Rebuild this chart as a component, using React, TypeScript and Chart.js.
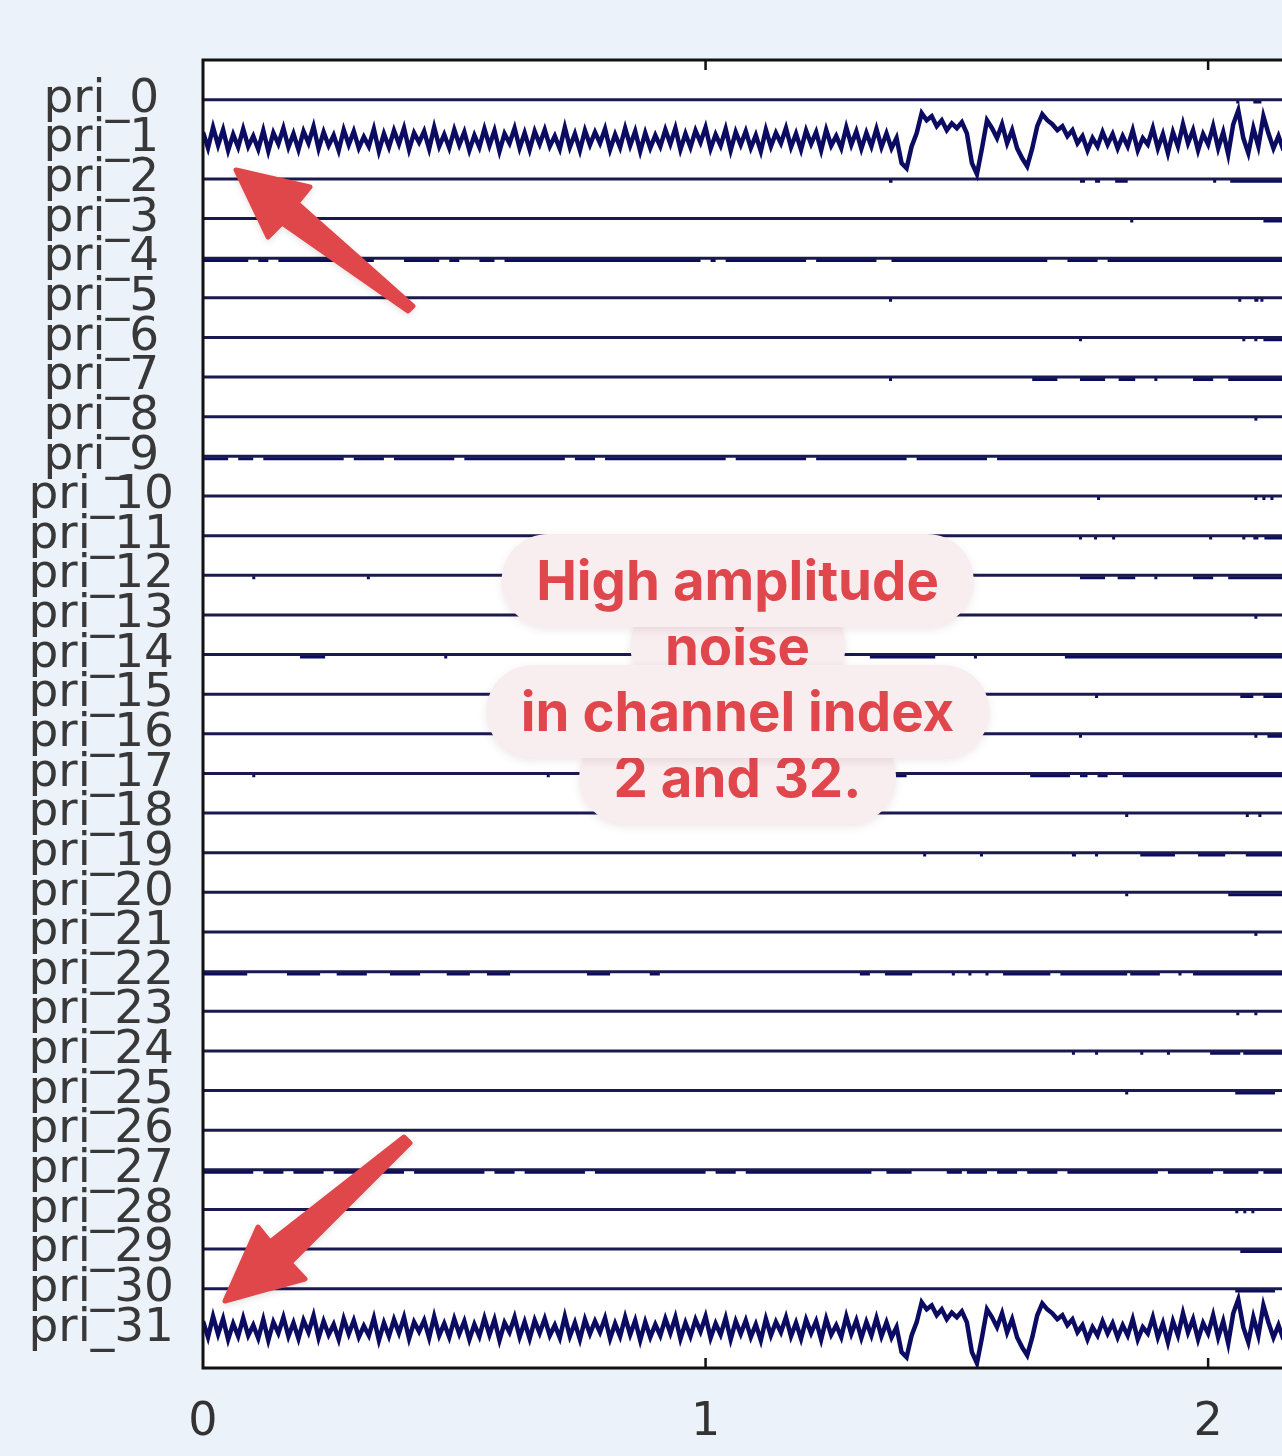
import React, { useEffect, useRef } from "react";
import { Chart, registerables } from "chart.js";

Chart.register(...registerables);

// ---------- DATA ----------
const channelNames = [
  "pri_0", "pri_1", "pri_2", "pri_3", "pri_4", "pri_5", "pri_6", "pri_7",
  "pri_8", "pri_9", "pri_10", "pri_11", "pri_12", "pri_13", "pri_14", "pri_15",
  "pri_16", "pri_17", "pri_18", "pri_19", "pri_20", "pri_21", "pri_22", "pri_23",
  "pri_24", "pri_25", "pri_26", "pri_27", "pri_28", "pri_29", "pri_30", "pri_31",
];
const xTickValues = [0, 1, 2];
const timeMin = 0;
const timeMax = 2.147;
const sampleStep = 0.01; // seconds between samples of the noisy trace
const channelSpacing = 100; // µV between two channel rows
const noisyChannels = [1, 31];

// noisy trace (µV), samples at t = 0, 0.01, ... 2.15
const noiseTrace = [
  18, -22, 30, -15, 24, -28, 12, -20, 26, -18, 8, -25, 22, -30, 16, -12, 28,
  -20, 14, -26, 20, -10, 32, -24, 18, -16, 10, -28, 24, -14, 20, -22, 6, -18,
  26, -30, 14, -20, 22, -12, 28, -26, 16, -8, 20, -24, 30, -18, 12, -22, 24,
  -14, 18, -28, 10, -20, 26, -16, 22, -30, 14, -10, 28, -22, 16, -26, 20, -12,
  24, -18, 8, -24, 30, -20, 14, -28, 22, -14, 18, -10, 26, -26, 12, -20, 28,
  -16, 20, -30, 16, -22, 10, -18, 24, -12, 28, -26, 14, -20, 22, -8, 30, -24,
  12, -16, 26, -28, 18, -14, 20, -22, 10, -30, 24, -18, 16, -10, 28, -20, 14,
  -26, 22, -12, 18, -28, 24, -16, 8, -22, 30, -14, 20, -24, 16, -18, 26, -20,
  15, -23, 3, -60, -73, -18, 15, 66, 48, 58,
  33, 48, 23, 40, 28, 43, 15, -60, -88, -23,
  48, 28, 3, 38, -10, 23, -23, -48, -68, -23,
  33, 63, 48, 38, 23, 33, 8, 23, -10, 8,
  -28, 3, -18, 18, -13, 13, -23, 8, -18, 23,
  -28, 3, -13, 28, -23, 13, -35, 18, -18, 38,
  -10, 23, -28, 13, -13, 33, -23, 18, -38, 38,
  73, 3, -35, 28, -18, 58, 15, -23, 8, -28,
];

// small deflection level (µV) of the quiet channels during their events
const blipLevel = -6;

// event intervals [start s, end s] for each channel
const channelEvents: number[][][] = [
  /* 0 */ [[2.056, 2.062], [2.09, 2.106]],
  /* 1 */ [],
  /* 2 */ [[1.365, 1.372], [1.745, 1.755], [1.775, 1.785], [1.815, 1.84], [2.01, 2.016], [2.044, 2.15]],
  /* 3 */ [[1.845, 1.851], [2.11, 2.15]],
  /* 4 */ [[0, 0.09], [0.11, 0.13], [0.15, 0.3], [0.32, 0.34], [0.4, 0.47], [0.49, 0.51], [0.55, 0.58], [0.6, 0.99], [1.01, 1.02], [1.04, 1.2], [1.22, 1.34], [1.37, 1.68], [1.72, 1.78], [1.8, 2.15]],
  /* 5 */ [[1.365, 1.371], [2.06, 2.066], [2.092, 2.1], [2.104, 2.11]],
  /* 6 */ [[1.743, 1.749], [2.068, 2.074], [2.092, 2.098], [2.11, 2.15]],
  /* 7 */ [[1.365, 1.371], [1.65, 1.7], [1.745, 1.795], [1.822, 1.855], [1.893, 1.899], [1.97, 2.01], [2.04, 2.15]],
  /* 8 */ [[2.092, 2.098]],
  /* 9 */ [[0, 0.05], [0.07, 0.1], [0.12, 0.28], [0.3, 0.36], [0.38, 0.5], [0.52, 0.72], [0.74, 0.78], [0.8, 1.04], [1.06, 1.2], [1.22, 1.4], [1.42, 1.56], [1.58, 2.15]],
  /* 10 */ [[1.779, 1.785], [2.092, 2.098], [2.108, 2.114], [2.124, 2.13]],
  /* 11 */ [[1.743, 1.749], [1.773, 1.779], [1.809, 1.815], [2.002, 2.008], [2.068, 2.074], [2.09, 2.1], [2.112, 2.15]],
  /* 12 */ [[0.098, 0.104], [0.326, 0.332], [1.745, 1.795], [1.82, 1.855], [1.893, 1.899], [1.97, 2.01], [2.04, 2.15]],
  /* 13 */ [[2.092, 2.098]],
  /* 14 */ [[0.193, 0.243], [0.48, 0.486], [1.327, 1.457], [1.534, 1.54], [1.715, 2.15]],
  /* 15 */ [[1.365, 1.371], [1.775, 1.781], [2.064, 2.09], [2.11, 2.15]],
  /* 16 */ [[1.743, 1.749], [2.092, 2.098], [2.118, 2.15]],
  /* 17 */ [[0.098, 0.104], [0.684, 0.69], [1.377, 1.4], [1.646, 1.725], [1.745, 1.76], [1.78, 1.8], [1.83, 2.15]],
  /* 18 */ [[1.835, 1.841], [2.075, 2.081], [2.1, 2.106]],
  /* 19 */ [[1.433, 1.439], [1.546, 1.552], [1.729, 1.737], [1.775, 1.781], [1.865, 1.934], [1.98, 2.034], [2.075, 2.15]],
  /* 20 */ [[1.835, 1.841], [2.04, 2.15]],
  /* 21 */ [[2.092, 2.098]],
  /* 22 */ [[0, 0.088], [0.167, 0.233], [0.266, 0.326], [0.372, 0.432], [0.485, 0.531], [0.565, 0.611], [0.764, 0.81], [0.889, 0.909], [1.307, 1.327], [1.357, 1.411], [1.49, 1.496], [1.523, 1.529], [1.557, 1.563], [1.592, 1.686], [1.706, 1.839], [1.845, 1.904], [1.941, 1.947], [1.97, 2.15]],
  /* 23 */ [[2.056, 2.062], [2.092, 2.098]],
  /* 24 */ [[1.729, 1.735], [1.775, 1.781], [1.865, 1.871], [1.918, 1.924], [2.004, 2.064], [2.07, 2.15]],
  /* 25 */ [[1.835, 1.841], [2.054, 2.133]],
  /* 26 */ [],
  /* 27 */ [[0, 0.1], [0.12, 0.16], [0.18, 0.24], [0.26, 0.4], [0.42, 0.56], [0.58, 0.62], [0.64, 0.76], [0.78, 1.0], [1.02, 1.06], [1.08, 1.33], [1.36, 1.41], [1.48, 1.51], [1.52, 1.56], [1.58, 1.62], [1.64, 1.7], [1.72, 1.9], [1.92, 2.01], [2.03, 2.1], [2.11, 2.15]],
  /* 28 */ [[2.054, 2.06], [2.07, 2.076], [2.086, 2.092]],
  /* 29 */ [[2.064, 2.15]],
  /* 30 */ [[2.054, 2.133]],
  /* 31 */ [],
];

const noteLines = ["High amplitude", "noise", "in channel index", "2 and 32."];

// ---------- STYLE ----------
const TRACE = "#0b0b62";
const BASE = "#1a1a50";
const RED = "#e0474c";
const PILL = "#f8edef";
const BG = "#ebf2f9";

const framePlugin = {
  id: "frame",
  beforeDraw(chart: any) {
    const { ctx, chartArea: a } = chart;
    ctx.save();
    ctx.fillStyle = "#ffffff";
    ctx.fillRect(a.left, a.top, a.right - a.left + 2, a.bottom - a.top);
    ctx.restore();
  },
  afterDatasetsDraw(chart: any) {
    const { ctx, chartArea: a, scales } = chart;
    const xs = scales.x;
    ctx.save();
    ctx.strokeStyle = "#111111";
    ctx.lineWidth = 3;
    ctx.beginPath();
    ctx.moveTo(a.right + 4, a.top);
    ctx.lineTo(a.left, a.top);
    ctx.lineTo(a.left, a.bottom);
    ctx.lineTo(a.right + 4, a.bottom);
    ctx.stroke();
    ctx.lineWidth = 2.5;
    ctx.beginPath();
    for (const t of xs.ticks) {
      const px = xs.getPixelForValue(t.value);
      if (px <= a.left + 2) continue;
      ctx.moveTo(px, a.top);
      ctx.lineTo(px, a.top + 10);
      ctx.moveTo(px, a.bottom);
      ctx.lineTo(px, a.bottom - 10);
    }
    ctx.stroke();
    ctx.restore();
  },
};

function buildDatasets() {
  const ds: any[] = [];
  const tEnd = (noiseTrace.length - 1) * sampleStep;
  channelNames.forEach((_, ch) => {
    if (noisyChannels.includes(ch)) {
      ds.push({
        data: noiseTrace.map((v, k) => ({ x: k * sampleStep, y: ch - v / channelSpacing })),
        borderColor: TRACE,
        borderWidth: 4.5,
        borderJoinStyle: "miter",
      });
      return;
    }
    ds.push({
      data: [
        { x: 0, y: ch },
        { x: tEnd, y: ch },
      ],
      borderColor: BASE,
      borderWidth: 3,
    });
    const ev = channelEvents[ch];
    if (ev.length) {
      const pts: any[] = [];
      ev.forEach(([a, b]) => {
        pts.push({ x: a, y: ch - blipLevel / channelSpacing });
        pts.push({ x: b, y: ch - blipLevel / channelSpacing });
        pts.push({ x: b, y: null });
      });
      ds.push({ data: pts, borderColor: TRACE, borderWidth: 3, spanGaps: false });
    }
  });
  return ds.map((d) => ({
    pointRadius: 0,
    tension: 0,
    fill: false,
    borderCapStyle: "butt",
    ...d,
  }));
}

export default function App() {
  const ref = useRef<HTMLCanvasElement>(null);

  useEffect(() => {
    const chart = new Chart(ref.current as HTMLCanvasElement, {
      type: "line",
      data: { datasets: buildDatasets() },
      options: {
        animation: false,
        responsive: true,
        maintainAspectRatio: false,
        events: [],
        layout: { padding: { top: 60, left: 0, right: 0, bottom: 0 } },
        plugins: { legend: { display: false }, tooltip: { enabled: false } },
        scales: {
          x: {
            type: "linear",
            position: "bottom",
            min: timeMin,
            max: timeMax,
            grid: { display: false, drawTicks: false },
            border: { display: false },
            afterBuildTicks: (s: any) => {
              s.ticks = xTickValues.map((v) => ({ value: v }));
            },
            afterFit: (s: any) => {
              s.height = 88;
            },
            ticks: {
              autoSkip: false,
              maxRotation: 0,
              padding: 27,
              color: "#333333",
              font: { family: "DejaVu Sans", size: 46 },
              callback: (v: any) => String(v),
            },
          },
          y: {
            type: "linear",
            position: "left",
            min: -1,
            max: 32,
            reverse: true,
            grid: { display: false, drawTicks: false },
            border: { display: false },
            afterBuildTicks: (s: any) => {
              s.ticks = channelNames.map((_, i) => ({ value: i }));
            },
            afterFit: (s: any) => {
              s.width = 203;
            },
            ticks: {
              autoSkip: false,
              crossAlign: "center",
              padding: 29,
              color: "#383838",
              font: { family: "DejaVu Sans", size: 47 },
              callback: (v: any) => channelNames[v] ?? "",
            },
          },
        },
      },
      plugins: [framePlugin],
    } as any);
    return () => chart.destroy();
  }, []);

  const centers = [580, 646, 711, 777];
  const order = [1, 3, 0, 2];

  return (
    <div
      style={{
        position: "absolute",
        left: 0,
        top: 0,
        width: 1282,
        height: 1456,
        background: BG,
        overflow: "hidden",
      }}
    >
      <div style={{ position: "absolute", left: 0, top: 0, width: 1282, height: 1456 }}>
        <canvas ref={ref} />
      </div>
      <svg
        width={1282}
        height={1456}
        style={{ position: "absolute", left: 0, top: 0, pointerEvents: "none" }}
      >
        <defs>
          <filter id="sh" x="-20%" y="-20%" width="140%" height="140%">
            <feDropShadow dx="0" dy="2" stdDeviation="3" floodColor="#000" floodOpacity="0.12" />
          </filter>
        </defs>
        <polygon
          points="236,170 310,187 297,203 413,306 408,311 282,223 268,237"
          fill={RED}
          stroke={RED}
          strokeWidth={5}
          strokeLinejoin="round"
          filter="url(#sh)"
        />
        <polygon
          points="225,1301 258,1227 270,1242 404,1137 410,1143 290,1263 305,1279"
          fill={RED}
          stroke={RED}
          strokeWidth={5}
          strokeLinejoin="round"
          filter="url(#sh)"
        />
      </svg>
      {order.map((i) => (
        <div
          key={i}
          style={{
            position: "absolute",
            left: 737.5,
            top: centers[i] - 46.5,
            height: 93,
            transform: "translateX(-50%)",
            padding: "0 35px",
            borderRadius: 47,
            background: PILL,
            boxShadow: "0 3px 8px rgba(120,60,70,0.12)",
            display: "flex",
            alignItems: "center",
            justifyContent: "center",
            whiteSpace: "nowrap",
            fontFamily: "Inter, 'Noto Sans', sans-serif",
            fontWeight: 700,
            fontSize: 54.5,
            color: RED,
            lineHeight: 1,
          }}
        >
          {noteLines[i]}
        </div>
      ))}
    </div>
  );
}
